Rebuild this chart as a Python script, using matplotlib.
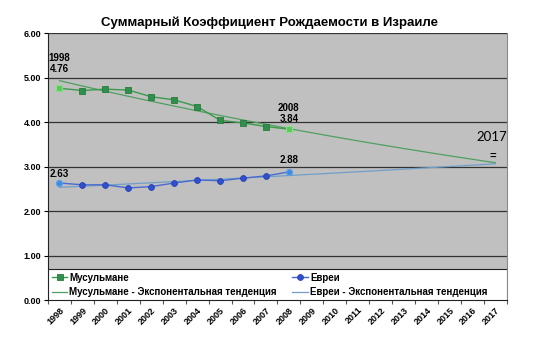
import numpy as np
import matplotlib
matplotlib.use("Agg")
import matplotlib.pyplot as plt
from matplotlib.patches import Rectangle

plt.rcParams['font.family'] = ['Liberation Sans', 'DejaVu Sans']

years = [str(y) for y in range(1998, 2018)]
muslims = [4.76, 4.71, 4.74, 4.72, 4.57, 4.50, 4.35, 4.04, 3.98, 3.90, 3.84]
jews = [2.63, 2.59, 2.59, 2.52, 2.55, 2.63, 2.70, 2.68, 2.74, 2.79, 2.88]

title = "Суммарный Коэффициент Рождаемости в Израиле"
lbl_mus = "Мусульмане"
lbl_jew = "Евреи"
lbl_mus_tr = "Мусульмане - Экспонентальная тенденция"
lbl_jew_tr = "Евреи - Экспонентальная тенденция"


def exp_trend(vals, n):
    # exponential trend like excel: y = a*exp(b*x)
    x = np.arange(1, len(vals) + 1)
    b, lna = np.polyfit(x, np.log(vals), 1)
    xx = np.arange(1, n + 1)
    return np.exp(lna) * np.exp(b * xx)


fig = plt.figure(figsize=(5.54, 3.38), dpi=100)
ax = fig.add_axes([0.0866, 0.1124, 0.8284, 0.7896])
ax.set_facecolor('#c0c0c0')

xs = np.arange(len(years))
n_data = len(muslims)

mus_tr = exp_trend(muslims, len(years))
jew_tr = exp_trend(jews, len(years))

l_mt, = ax.plot(xs, mus_tr, c='#4fa060', lw=0.9, zorder=3)
l_jt, = ax.plot(xs, jew_tr, c='#6f9fc8', lw=0.9, zorder=3)
l_m, = ax.plot(xs[:n_data], muslims, c='#3d9a4a', lw=1.0, marker='s', ms=4.2,
               mfc='#2f8f4f', mec='#2a7a3a', mew=0.6, zorder=4)
l_j, = ax.plot(xs[:n_data], jews, c='#4a6ad0', lw=1.0, marker='o', ms=4.2,
               mfc='#3050d0', mec='#2540b0', mew=0.6, zorder=4)

# highlighted points with labels
ax.plot([xs[0], xs[n_data - 1]], [muslims[0], muslims[-1]], ls='none', marker='s',
        ms=4.2, mfc='#5cc85c', mec='#88e088', mew=0.8, zorder=5)
ax.plot([xs[0], xs[n_data - 1]], [jews[0], jews[-1]], ls='none', marker='o',
        ms=4.2, mfc='#3a8ae0', mec='#60a8f0', mew=0.8, zorder=5)

fs = 7
ax.text(xs[0], 5.08, "1998\n%.2f" % muslims[0], ha='center', va='bottom',
        fontsize=fs, fontweight='bold', linespacing=1.15)
ax.text(xs[n_data - 1], 3.95, "2008\n%.2f" % muslims[-1], ha='center', va='bottom',
        fontsize=fs, fontweight='bold', linespacing=1.15)
ax.text(xs[0], 2.73, "%.2f" % jews[0], ha='center', va='bottom',
        fontsize=fs, fontweight='bold')
ax.text(xs[n_data - 1], 3.03, "%.2f" % jews[-1], ha='center', va='bottom',
        fontsize=fs, fontweight='bold')
ax.text(18.85, 3.67, "2017", ha='center', va='center', fontsize=9.5, family='Lato')
ax.text(18.9, 3.25, "=", ha='center', va='center', fontsize=8, fontweight='bold')

ax.set_xlim(-0.5, len(years) - 0.5)
ax.set_ylim(0, 6)
ax.set_yticks(np.arange(0, 6.01, 1))
ax.set_yticklabels(["%.2f" % v for v in np.arange(0, 6.01, 1)],
                   fontsize=6.5, fontweight='bold')
ax.yaxis.grid(True, color='#333333', lw=0.9)
ax.set_axisbelow(True)

ax.set_xticks(xs)
ax.set_xticklabels(years, rotation=45, fontsize=6.5, fontweight='bold',
                   ha='right', rotation_mode='anchor')
ax.tick_params(axis='x', length=0, pad=4)
ax.set_xticks(np.arange(-0.5, len(years)), minor=True)
ax.tick_params(axis='x', which='minor', length=3, width=0.8, color='#555555')
ax.tick_params(axis='y', length=3, width=0.8, pad=2)

ax.spines['top'].set_visible(False)
ax.spines['right'].set_color('#8a8a8a')
ax.spines['left'].set_color('#222222')
ax.spines['bottom'].set_color('#222222')

# white legend box across the bottom of the plot area
ax.add_patch(Rectangle((0, 0), 1, 0.118, transform=ax.transAxes, fc='white',
                       ec='#222222', lw=0.8, zorder=6))
leg = ax.legend([l_m, l_mt, l_j, l_jt], [lbl_mus, lbl_mus_tr, lbl_jew, lbl_jew_tr],
                ncol=2, loc='lower left', bbox_to_anchor=(0.0, -0.005),
                prop={'weight': 'bold', 'size': 7}, frameon=False,
                handlelength=1.6, handletextpad=0.2, borderaxespad=0,
                labelspacing=0.5, borderpad=0.4, columnspacing=1.6)
leg.set_zorder(7)

fig.text(0.486, 0.934, title, ha='center', va='center', fontsize=9.5, fontweight='bold')

fig.savefig("out.png", dpi=100)
